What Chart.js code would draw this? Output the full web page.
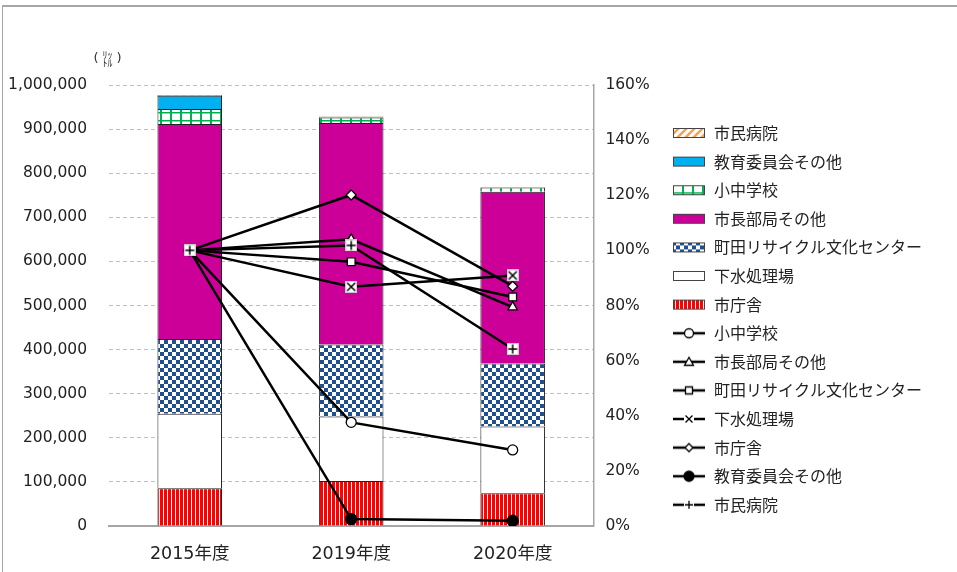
<!DOCTYPE html>
<html>
<head>
<meta charset="utf-8">
<script src="https://cdn.jsdelivr.net/npm/chart.js@4.4.1/dist/chart.umd.min.js"></script>
<style>
body { margin: 0; background: #fff; }
#wrap { position: relative; width: 957px; height: 572px; }
#frame { position: absolute; left: 2px; top: 5px; right: 0; bottom: 0; border-left: 1px solid #a6a6a6; border-top: 2px solid #a6a6a6; pointer-events: none; }
</style>
</head>
<body>
<div id="wrap"><canvas id="myChart" width="957" height="572"></canvas><div id="frame"></div></div>
<script>
// years
var labels = ['2015年度', '2019年度', '2020年度']

// usage (litres), stacked bars, bottom to top
var shichosha = [85500, 102300, 74200]      // 市庁舎
var gesui = [169000, 146100, 151500]        // 下水処理場
var recycle = [169600, 163000, 142500]      // 町田リサイクル文化センター
var shichobu = [487300, 502200, 389800]     // 市長部局その他
var shochu = [34100, 12800, 9400]           // 小中学校
var kyoiku = [30200, 760, 580]              // 教育委員会その他
var byoin = [1500, 1530, 960]               // 市民病院

// ratio to 2015 (%), right axis
var shochuRate = [100, 37.6, 27.6]
var shichobuRate = [100, 104, 79.4]
var recycleRate = [100, 95.9, 83.1]
var gesuiRate = [100, 86.8, 90.9]
var shichoshaRate = [100, 120.1, 87.0]
var kyoikuRate = [100, 2.5, 1.9]
var byoinRate = [100, 101.8, 64.2]

var leftTicks = [0, 100000, 200000, 300000, 400000, 500000, 600000, 700000, 800000, 900000, 1000000]
var rightTicks = [0, 20, 40, 60, 80, 100, 120, 140, 160]

function tile(w, h, draw) {
  var c = document.createElement('canvas')
  c.width = w
  c.height = h
  var g = c.getContext('2d')
  draw(g)
  return c.getContext('2d').createPattern(c, 'repeat')
}

var redStripe = tile(4, 4, function(g) {
  g.fillStyle = '#fff'; g.fillRect(0, 0, 4, 4)
  g.fillStyle = '#ff0000'; g.fillRect(0, 0, 3, 4)
})
var checker = tile(8, 8, function(g) {
  g.fillStyle = '#fff'; g.fillRect(0, 0, 8, 8)
  g.fillStyle = '#1f4f8f'; g.fillRect(0, 0, 4, 4); g.fillRect(4, 4, 4, 4)
})
var greenGrid = tile(10, 8, function(g) {
  g.fillStyle = '#fff'; g.fillRect(0, 0, 10, 8)
  g.fillStyle = '#00b050'; g.fillRect(0, 0, 2, 8); g.fillRect(0, 0, 10, 1.5)
})
var orangeHatch = tile(8, 8, function(g) {
  g.fillStyle = '#fff'; g.fillRect(0, 0, 8, 8)
  g.strokeStyle = '#f4a05a'; g.lineWidth = 2.5
  g.beginPath()
  g.moveTo(-2, 10); g.lineTo(10, -2)
  g.moveTo(-6, 6); g.lineTo(6, -6)
  g.moveTo(2, 14); g.lineTo(14, 2)
  g.stroke()
})

// white boxed markers for + and x
function boxMarker(kind) {
  var c = document.createElement('canvas')
  c.width = 12; c.height = 12
  var g = c.getContext('2d')
  g.fillStyle = '#fff'; g.fillRect(0, 0, 12, 12)
  g.strokeStyle = '#c8c8c8'; g.lineWidth = 1; g.strokeRect(0.5, 0.5, 11, 11)
  g.strokeStyle = '#000'; g.lineWidth = 1.5
  g.beginPath()
  if (kind == 'plus') {
    g.moveTo(6, 1.5); g.lineTo(6, 10.5); g.moveTo(1.5, 6); g.lineTo(10.5, 6)
  } else {
    g.moveTo(2, 2); g.lineTo(10, 10); g.moveTo(10, 2); g.lineTo(2, 10)
  }
  g.stroke()
  return c
}
var plusMark = boxMarker('plus')
var crossMark = boxMarker('cross')

// legend icons
function boxIcon(fill) {
  var c = document.createElement('canvas')
  c.width = 34; c.height = 12
  var g = c.getContext('2d')
  g.fillStyle = fill; g.fillRect(1, 1, 32, 10)
  g.strokeStyle = '#444'; g.lineWidth = 1; g.strokeRect(1.5, 1.5, 31, 9)
  return c
}
function lineIcon(kind) {
  var c = document.createElement('canvas')
  c.width = 34; c.height = 14
  var g = c.getContext('2d')
  g.strokeStyle = '#000'; g.lineWidth = 2.5
  g.beginPath(); g.moveTo(1, 7); g.lineTo(33, 7); g.stroke()
  g.fillStyle = '#fff'; g.lineWidth = 1.3
  g.beginPath()
  if (kind == 'circle') g.arc(17, 7, 4.5, 0, Math.PI * 2)
  if (kind == 'dot') { g.fillStyle = '#000'; g.arc(17, 7, 5, 0, Math.PI * 2) }
  if (kind == 'triangle') { g.moveTo(17, 2.5); g.lineTo(21.5, 10.5); g.lineTo(12.5, 10.5); g.closePath() }
  if (kind == 'rect') g.rect(13.5, 3.5, 7, 7)
  if (kind == 'diamond') { g.moveTo(17, 3); g.lineTo(21, 7); g.lineTo(17, 11); g.lineTo(13, 7); g.closePath() }
  if (kind == 'circle' || kind == 'dot' || kind == 'triangle' || kind == 'rect' || kind == 'diamond') { g.fill(); g.stroke() }
  if (kind == 'plus') { g.fillRect(12, 2, 10, 10); g.beginPath(); g.moveTo(17, 3); g.lineTo(17, 11); g.moveTo(13, 7); g.lineTo(21, 7); g.stroke() }
  if (kind == 'cross') { g.fillRect(12, 2, 10, 10); g.beginPath(); g.moveTo(13.5, 3.5); g.lineTo(20.5, 10.5); g.moveTo(20.5, 3.5); g.lineTo(13.5, 10.5); g.stroke() }
  return c
}

function barSet(label, data, fill) {
  return {
    type: 'bar', label: label, data: data, backgroundColor: fill,
    borderColor: '#222', borderWidth: 1, yAxisID: 'y', order: 10,
    barPercentage: 0.4, categoryPercentage: 1
  }
}
function lineSet(label, data, style, fill, radius, order) {
  return {
    type: 'line', label: label, data: data, yAxisID: 'y1', order: order,
    borderColor: '#000', borderWidth: 2.5, tension: 0,
    pointStyle: style, pointRadius: radius, pointBackgroundColor: fill,
    pointBorderColor: '#000', pointBorderWidth: 1.3
  }
}

var datasets = [
  barSet('市庁舎', shichosha, redStripe),
  barSet('下水処理場', gesui, '#ffffff'),
  barSet('町田リサイクル文化センター', recycle, checker),
  barSet('市長部局その他', shichobu, '#cc0099'),
  barSet('小中学校', shochu, greenGrid),
  barSet('教育委員会その他', kyoiku, '#00b0f0'),
  barSet('市民病院', byoin, orangeHatch),
  lineSet('小中学校', shochuRate, 'circle', '#fff', 5, 1),
  lineSet('市長部局その他', shichobuRate, 'triangle', '#fff', 5.5, 1),
  lineSet('町田リサイクル文化センター', recycleRate, 'rect', '#fff', 5.5, 1),
  lineSet('下水処理場', gesuiRate, crossMark, '#fff', 6, 1),
  lineSet('市庁舎', shichoshaRate, 'rectRot', '#fff', 5, 1),
  lineSet('教育委員会その他', kyoikuRate, 'circle', '#000', 5.5, 1),
  lineSet('市民病院', byoinRate, plusMark, '#fff', 6, 0)
]

var icons = [
  boxIcon(redStripe), boxIcon('#fff'), boxIcon(checker), boxIcon('#cc0099'),
  boxIcon(greenGrid), boxIcon('#00b0f0'), boxIcon(orangeHatch),
  lineIcon('circle'), lineIcon('triangle'), lineIcon('rect'), lineIcon('cross'),
  lineIcon('diamond'), lineIcon('dot'), lineIcon('plus')
]
var legendOrder = [6, 5, 4, 3, 2, 1, 0, 7, 8, 9, 10, 11, 12, 13]

var unitLabel = {
  id: 'unitLabel',
  afterDraw: function(chart) {
    var ctx = chart.ctx
    ctx.save()
    ctx.fillStyle = '#333'
    ctx.textAlign = 'center'
    ctx.textBaseline = 'middle'
    ctx.font = '13px "DejaVu Sans"'
    ctx.fillText('(', 96, 59)
    ctx.fillText(')', 119, 59)
    ctx.font = '10px "Noto Sans CJK JP"'
    ctx.fillText('ﾘｯ', 107.5, 55)
    ctx.fillText('ﾄﾙ', 107.5, 63)
    ctx.restore()
  }
}

var axisFont = { family: '"DejaVu Sans", "Noto Sans CJK JP"', size: 15.5 }

new Chart('myChart', {
  data: { labels: labels, datasets: datasets },
  plugins: [unitLabel],
  options: {
    responsive: false,
    animation: false,
    devicePixelRatio: 1,
    layout: { padding: { left: 0, right: 25, top: 85, bottom: 0 } },
    plugins: {
      tooltip: { enabled: false },
      legend: {
        position: 'right',
        align: 'start',
        maxWidth: 320,
        title: { display: true, text: '', font: { size: 10 }, padding: 7.7 },
        labels: {
          usePointStyle: true,
          pointStyleWidth: 34,
          boxHeight: 12,
          padding: 12.6,
          color: '#222',
          font: { family: '"Noto Sans CJK JP"', size: 16 },
          generateLabels: function(chart) {
            return legendOrder.map(function(i) {
              return {
                text: chart.data.datasets[i].label, pointStyle: icons[i], datasetIndex: i,
                hidden: false, lineWidth: 0, fontColor: '#222',
                fillStyle: 'rgba(0,0,0,0)', strokeStyle: 'rgba(0,0,0,0)'
              }
            })
          }
        }
      }
    },
    scales: {
      x: {
        stacked: true,
        afterFit: function(s) { s.height = 46 },
        grid: { display: false, drawTicks: false },
        border: { display: true, color: '#a6a6a6', width: 2 },
        ticks: { color: '#222', padding: 18, font: { family: '"DejaVu Sans", "Noto Sans CJK JP"', size: 17.5 } }
      },
      y: {
        stacked: true,
        position: 'left',
        min: 0,
        max: 1000000,
        afterFit: function(s) { s.width = 109 },
        afterBuildTicks: function(s) { s.ticks = leftTicks.map(function(v) { return { value: v } }) },
        grid: { color: '#bfbfbf', lineWidth: 1, drawTicks: false },
        border: { display: false, dash: [4, 3] },
        ticks: {
          color: '#222', padding: 22, font: axisFont,
          callback: function(v) { return v.toLocaleString('en-US') }
        }
      },
      y1: {
        position: 'right',
        min: 0,
        max: 160,
        afterFit: function(s) { s.width = 66 },
        afterBuildTicks: function(s) { s.ticks = rightTicks.map(function(v) { return { value: v } }) },
        grid: { display: false, drawTicks: false },
        border: { display: true, color: '#a6a6a6', width: 1.5 },
        ticks: {
          color: '#222', padding: 12, font: axisFont,
          callback: function(v) { return v + '%' }
        }
      }
    }
  }
})
</script>
</body>
</html>
